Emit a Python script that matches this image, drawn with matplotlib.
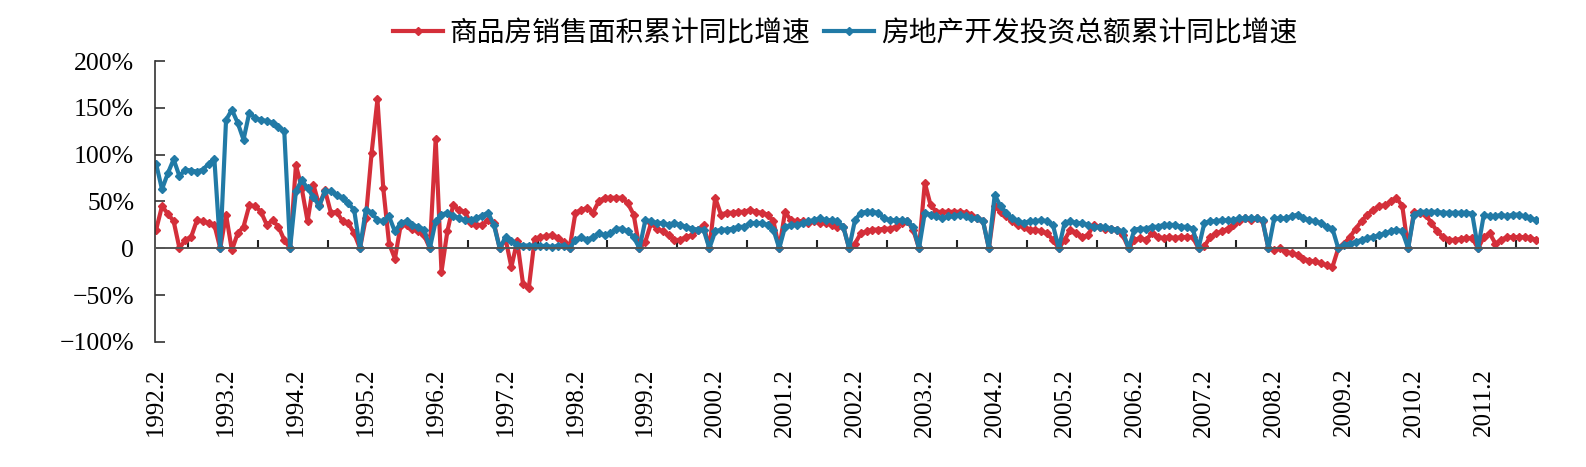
import numpy as np
import matplotlib
matplotlib.use("Agg")
import matplotlib.pyplot as plt

# monthly data, Feb 1992 .. Nov 2011, January plotted as 0
sales_area = [
    20, 45, 37, 29, 0, 9, 12, 30, 29, 27, 25,              # 1992
    0, 36, -2, 16, 23, 46, 45, 39, 25, 30, 23, 9,          # 1993
    0, 89, 64, 29, 68, 46, 62, 38, 39, 29, 27, 16,         # 1994
    0, 32, 102, 159, 64, 5, -11, 25, 25, 21, 18, 14,       # 1995
    0, 117, -25, 18, 46, 41, 39, 27, 25, 25, 30, 27,       # 1996
    0, 10, -20, 8, -38, -42, 10, 12, 13, 14, 11, 7,        # 1997
    0, 38, 41, 43, 38, 50, 54, 54, 54, 54, 48, 36,         # 1998
    0, 7, 27, 21, 18, 14, 9, 9, 12, 14, 20, 25,            # 1999
    0, 54, 36, 38, 38, 39, 39, 41, 39, 38, 36, 29,         # 2000
    0, 39, 30, 29, 29, 27, 29, 27, 27, 25, 23, 23,         # 2001
    0, 5, 16, 18, 20, 20, 21, 21, 23, 27, 29, 20,          # 2002
    0, 70, 46, 39, 39, 39, 39, 39, 38, 36, 32, 29,         # 2003
    0, 45, 39, 34, 29, 25, 23, 20, 20, 18, 16, 9,          # 2004
    0, 9, 20, 16, 12, 14, 25, 23, 21, 21, 20, 14,          # 2005
    0, 9, 11, 9, 16, 12, 11, 12, 11, 12, 12, 12,           # 2006
    0, 2, 12, 16, 18, 21, 25, 29, 32, 30, 32, 29,          # 2007
    0, -2, 0, -4, -5, -7, -11, -13, -14, -16, -18, -20,    # 2008
    0, 5, 12, 21, 29, 36, 41, 45, 46, 50, 54, 45,          # 2009
    0, 39, 38, 36, 27, 18, 12, 9, 9, 10, 11, 11,           # 2010
    0, 12, 16, 5, 9, 12, 12, 12, 12, 11, 9,                # 2011
]
investment = [
    90, 63, 80, 95, 77, 84, 83, 82, 84, 90, 95,
    0, 137, 148, 134, 116, 145, 139, 137, 136, 134, 130, 125,
    0, 61, 73, 64, 55, 45, 61, 61, 57, 54, 48, 41,
    0, 41, 38, 30, 29, 34, 18, 27, 29, 25, 23, 20,
    0, 29, 36, 38, 35, 32, 30, 30, 32, 35, 38, 25,
    0, 12, 8, 4, 3, 3, 3, 2, 3, 1, 3, 3,
    0, 9, 12, 9, 12, 16, 14, 16, 21, 21, 18, 12,
    0, 30, 29, 27, 27, 25, 27, 25, 23, 21, 20, 20,
    0, 18, 20, 20, 21, 23, 23, 27, 27, 27, 25, 20,
    0, 23, 25, 25, 27, 29, 30, 32, 30, 30, 29, 23,
    0, 30, 38, 39, 39, 38, 32, 30, 30, 30, 29, 23,
    0, 38, 36, 34, 32, 34, 34, 36, 34, 32, 32, 29,
    0, 57, 45, 38, 32, 29, 27, 29, 29, 30, 29, 25,
    0, 27, 29, 27, 27, 25, 23, 23, 23, 21, 20, 18,
    0, 20, 21, 21, 23, 23, 25, 25, 25, 23, 23, 21,
    0, 27, 29, 29, 30, 30, 30, 32, 32, 32, 32, 30,
    0, 32, 32, 32, 34, 36, 32, 30, 29, 27, 23, 21,
    0, 4, 5, 7, 9, 11, 12, 14, 16, 18, 20, 18,
    0, 36, 39, 39, 39, 39, 38, 38, 38, 38, 38, 37,
    0, 36, 34, 34, 36, 34, 36, 36, 34, 32, 30,
]
years = list(range(1992, 2012))
year_labels = [f"{y}.2" for y in years]
names = ["商品房销售面积累计同比增速", "房地产开发投资总额累计同比增速"]

red = "#d42f3a"
blue = "#217aa6"

fig = plt.figure(figsize=(15.86, 4.67), dpi=100)
ax = fig.add_axes([155 / 1586, 1 - 342 / 467, 1383 / 1586, 281 / 467])

x = np.arange(len(sales_area))
l1, = ax.plot(x, sales_area, color=red, lw=3, marker="D", ms=4.5, label=names[0])
l2, = ax.plot(x, investment, color=blue, lw=3, marker="D", ms=4.5, label=names[1])

ax.set_xlim(-0.2, 237.3)
ax.set_ylim(-100, 200)

serif = "Liberation Serif"
yt = [-100, -50, 0, 50, 100, 150, 200]
ax.set_yticks(yt)
ax.set_yticklabels([("0" if v == 0 else f"{v}%".replace("-", "\u2212")) for v in yt],
                   family=serif, fontsize=18.5)
ax.tick_params(axis="y", direction="in", length=7, width=1.2, pad=15, color="#333333")

ax.spines["top"].set_visible(False)
ax.spines["right"].set_visible(False)
ax.spines["left"].set_color("#333333")
ax.spines["left"].set_linewidth(1.2)
ax.spines["bottom"].set_position(("data", 0))
ax.spines["bottom"].set_color("#555555")
ax.spines["bottom"].set_linewidth(1.4)

ax.set_xticks(np.arange(len(years)) * 12)
ax.set_xticklabels(year_labels, rotation=90, family=serif, fontsize=18)
ax.tick_params(axis="x", which="major", length=0, pad=86)
ax.set_xticks(np.arange(len(years)) * 12 + 5.5, minor=True)
ax.tick_params(axis="x", which="minor", direction="in", length=6, width=1.5, color="#222222")

leg = fig.legend(handles=[l1, l2], loc="center", bbox_to_anchor=(845 / 1586, 1 - 33 / 467),
                 ncol=2, frameon=False, handlelength=1.8, handletextpad=0.25,
                 columnspacing=0.5, prop={"family": "Noto Sans CJK SC", "size": 20})

fig.savefig("out.png", dpi=100)
